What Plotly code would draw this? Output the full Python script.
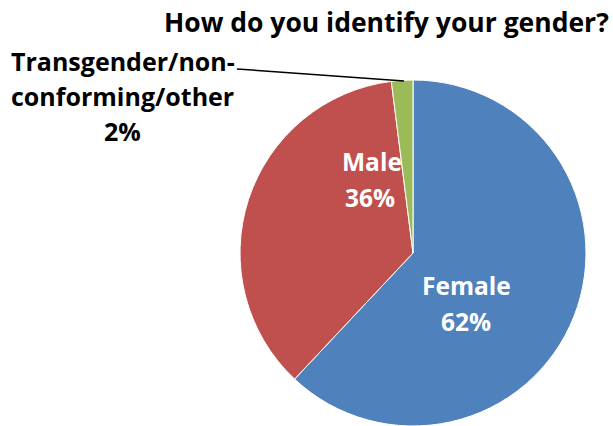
import plotly.graph_objects as go

# Survey responses
labels = ["Female", "Male", "Transgender/non-conforming/other"]
values = [62, 36, 2]
colors = ["#4F81BD", "#C0504D", "#9BBB59"]
title_text = "How do you identify your gender?"

W, H = 613, 426
FONT = "'Open Sans', sans-serif"


def px(x):
    return x / W


def py(y):
    return 1 - y / H


# pie square: centre (413, 253), radius 173
cx, cy, r = 413, 253, 173

fig = go.Figure(
    go.Pie(
        labels=labels,
        values=values,
        sort=False,
        direction="clockwise",
        rotation=0,
        marker=dict(colors=colors, line=dict(color="white", width=1)),
        textinfo="none",
        hoverinfo="label+percent",
        domain=dict(x=[px(cx - r), px(cx + r)], y=[py(cy + r), py(cy - r)]),
        showlegend=False,
    )
)

total = sum(values)
pct = [round(v * 100 / total) for v in values]

annotations = []


def add_lines(lines, xs, y0, step, color, size):
    for i, t in enumerate(lines):
        annotations.append(
            dict(
                text=f"<b>{t}</b>",
                x=px(xs[i]),
                y=py(y0 + i * step),
                xref="paper",
                yref="paper",
                showarrow=False,
                xanchor="center",
                yanchor="middle",
                font=dict(family=FONT, size=size, color=color),
            )
        )


# slice labels
add_lines([labels[0], f"{pct[0]}%"], [466, 466], 285, 36, "white", 24.5)
add_lines([labels[1], f"{pct[1]}%"], [372, 370], 162, 35, "white", 24.5)
add_lines(["Transgender/non-", "conforming/other", f"{pct[2]}%"],
          [123, 122, 122], 61, 35, "black", 25)

# title
annotations.append(
    dict(
        text=f"<b>{title_text}</b>",
        x=px(386),
        y=py(22),
        xref="paper",
        yref="paper",
        showarrow=False,
        xanchor="center",
        yanchor="middle",
        font=dict(family=FONT, size=26.5, color="black"),
    )
)

fig.update_layout(
    width=W,
    height=H,
    margin=dict(l=0, r=0, t=0, b=0),
    paper_bgcolor="white",
    plot_bgcolor="white",
    annotations=annotations,
    shapes=[
        dict(
            type="line",
            xref="paper",
            yref="paper",
            x0=px(237),
            y0=py(69),
            x1=px(404),
            y1=py(81),
            line=dict(color="black", width=1.5),
        )
    ],
)

fig.write_html("out.html")
